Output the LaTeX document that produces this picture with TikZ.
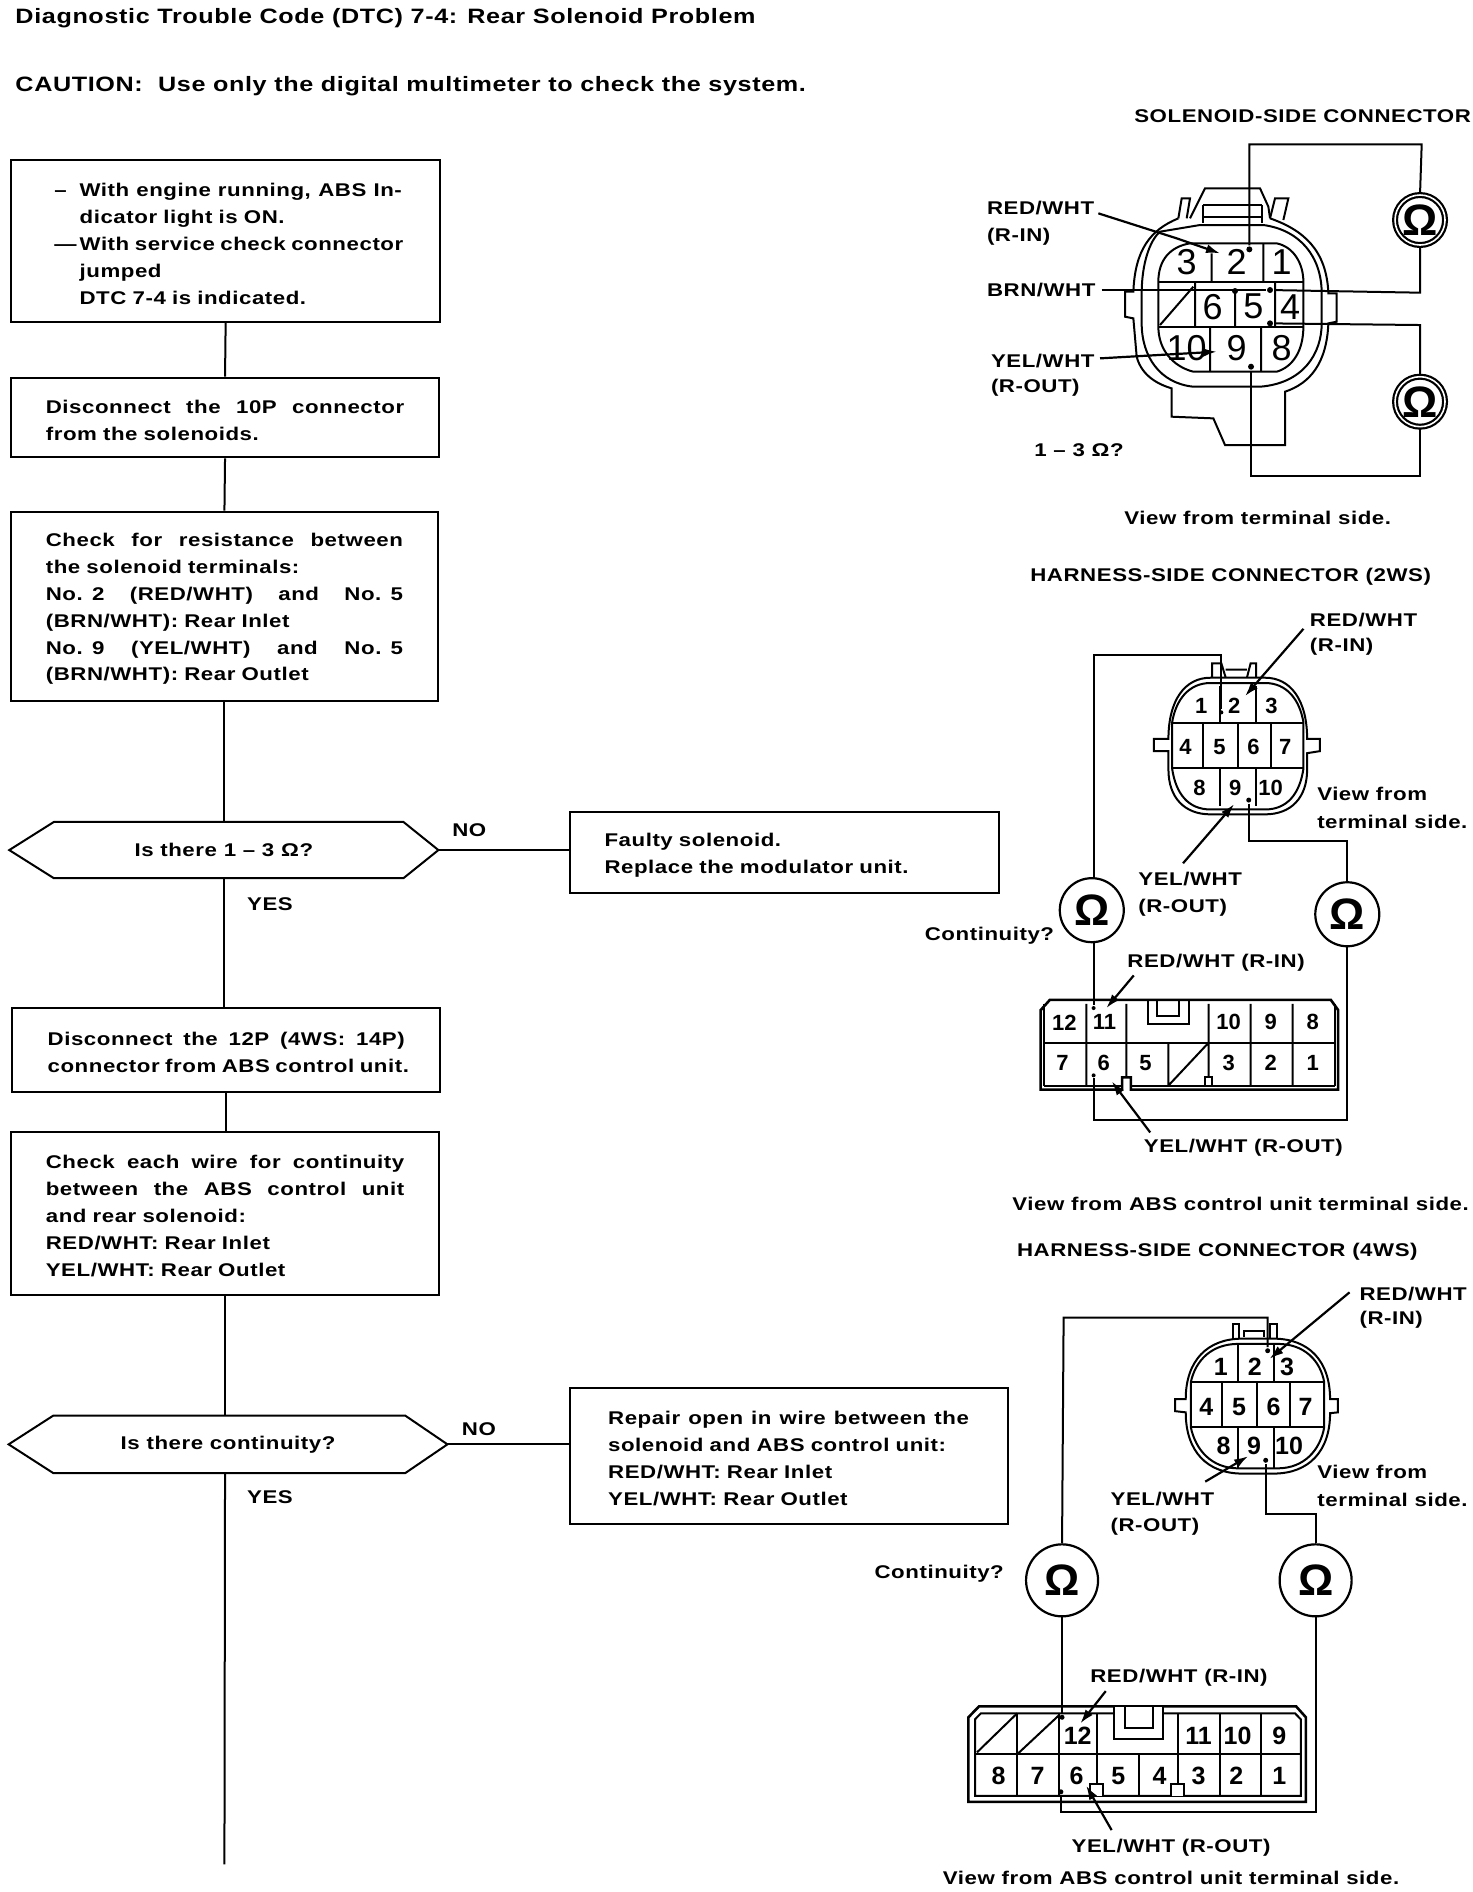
\documentclass[tikz,border=0pt]{standalone}
\usepackage{fontspec}
\usetikzlibrary{arrows.meta,calc}
\setmainfont{Liberation Sans}[FakeStretch=1.21,LetterSpace=3,BoldFont=Liberation Sans Bold]
\newfontfamily\digfont{Liberation Sans}
\newcommand\lbl{\fontsize{9.2}{13.45}\selectfont\bfseries}
\newcommand\ttl{\fontsize{10.4}{13.45}\selectfont\bfseries}
\newcommand\J[1]{\makebox[\hsize][s]{\spaceskip=0.3em plus 1fil\relax #1}}
\newlength\uu \setlength\uu{0.6033pt}
\tikzset{
  x=0.6033pt,y=-0.6033pt,
  every path/.style={line width=1pt},
  fbox/.style={draw,rectangle,inner ysep=0pt,font=\lbl,align=left,text height=9.3pt},
  hexb/.style={rectangle,inner sep=0pt,font=\lbl},
  lab/.style={anchor=west,inner sep=0pt,font=\lbl,yshift=-0.7pt},
  meter/.style={draw,circle,inner sep=0pt,line width=1.1pt,font=\digfont\bfseries\fontsize{22}{22}\selectfont},
  dotn/.style={circle,fill=black,inner sep=0pt,minimum size=3pt},
  lead/.style={line width=1.1pt,-{Latex[length=7pt,width=4.5pt]}},
  flow/.style={line width=1pt},
}
\begin{document}
\begin{tikzpicture}
\useasboundingbox (0,0) rectangle (1220,1568);
% headings
\node[lab,font=\ttl] (title) at (12,14) {Diagnostic Trouble Code (DTC) 7-4: Rear Solenoid Problem};
\node[lab,font=\ttl] (caution) at (12,70) {CAUTION:\ \ Use only the digital multimeter to check the system.};
% flow chart
\node[fbox,minimum width=356\uu,minimum height=134\uu,text width=292\uu,inner xsep=32\uu] (b1) at (187,200) {%
  \hspace*{4\uu}\makebox[21\uu][l]{--}\makebox[267\uu][s]{\spaceskip=0.3em plus 1fil\relax With engine running, ABS In-}\\
  \hspace*{25\uu}dicator light is ON.\\
  \hspace*{4\uu}\makebox[21\uu][l]{---}\makebox[267\uu][s]{\spaceskip=0.3em plus 1fil\relax With service check connector}\\
  \hspace*{25\uu}jumped\\
  \hspace*{25\uu}DTC 7-4 is indicated.};
\node[fbox,minimum width=355\uu,minimum height=66\uu,text width=297\uu,inner xsep=29\uu] (b2) at (186.5,346) {%
  \J{Disconnect the 10P connector}\\from the solenoids.};
\node[fbox,minimum width=354\uu,minimum height=157\uu,text width=296\uu,inner xsep=29\uu] (b3) at (186,502.5) {%
  \J{Check for resistance between}\\the solenoid terminals:\\\J{No. 2 (RED/WHT) and No. 5}\\(BRN/WHT): Rear Inlet\\\J{No. 9 (YEL/WHT) and No. 5}\\(BRN/WHT): Rear Outlet};
\node[hexb,minimum width=354\uu,minimum height=45\uu] (h1) at (185.5,704.5) {Is there 1 -- 3 Ω?};
\draw ($(h1.north west)+(37,0)$) -- ($(h1.north east)+(-29,0)$) -- (h1.east) -- ($(h1.south east)+(-29,0)$) -- ($(h1.south west)+(37,0)$) -- (h1.west) -- cycle;
\node[lab] (no1) at (374,687) {NO};
\node[lab] (yes1) at (204,748) {YES};
\node[fbox,minimum width=356\uu,minimum height=67\uu,text width=298\uu,inner xsep=29\uu] (f1) at (650,706.5) {Faulty solenoid.\\Replace the modulator unit.};
\node[fbox,minimum width=355\uu,minimum height=70\uu,text width=296\uu,inner xsep=29.5\uu] (b4) at (187.5,870) {%
  \J{Disconnect the 12P (4WS: 14P)}\\\J{connector from ABS control unit.}};
\node[fbox,minimum width=355\uu,minimum height=135\uu,text width=297\uu,inner xsep=29\uu] (b5) at (186.5,1005.5) {%
  \J{Check each wire for continuity}\\\J{between the ABS control unit}\\and rear solenoid:\\RED/WHT: Rear Inlet\\YEL/WHT: Rear Outlet};
\node[hexb,minimum width=362\uu,minimum height=46\uu] (h2) at (189,1197) {Is there continuity?};
\draw ($(h2.north west)+(37,0)$) -- ($(h2.north east)+(-35,0)$) -- (h2.east) -- ($(h2.south east)+(-35,0)$) -- ($(h2.south west)+(37,0)$) -- (h2.west) -- cycle;
\node[lab] (no2) at (382,1183) {NO};
\node[lab] (yes2) at (204,1240) {YES};
\node[fbox,minimum width=363\uu,minimum height=113\uu,text width=299\uu,inner xsep=32\uu] (f2) at (653.5,1206.5) {%
  \J{Repair open in wire between the}\\solenoid and ABS control unit:\\RED/WHT: Rear Inlet\\YEL/WHT: Rear Outlet};
\coordinate (endf) at (186,1545);
\draw[flow] (b1.south) -- (b2.north);
\draw[flow] (b2.south) -- (b3.north);
\draw[flow] (b3.south) -- (b3.south |- h1.north);
\draw[flow] (h1.east) -- (h1.east -| f1.west);
\draw[flow] (h1.south) -- (h1.south |- b4.north);
\draw[flow] (b4.south) -- (b4.south |- b5.north);
\draw[flow] (b5.south) -- (b5.south |- h2.north);
\draw[flow] (h2.east) -- (h2.east -| f2.west);
\draw[flow] (b5.south |- h2.south) -- (endf);

% ---------- solenoid-side connector
\begin{scope}[shift={(795.6,74.6)},x=0.16667pt,y=-0.16667pt]
\tikzset{dg/.style={inner sep=0pt,font=\digfont\fontsize{18}{18}\selectfont}}
\node[lab] (st) at (520,75) {SOLENOID-SIDE CONNECTOR};
\node[lab] (sr1) at (78,350) {RED/WHT};
\node[lab] (sr2) at (78,435) {(R-IN)};
\node[lab] (sb) at (78,597) {BRN/WHT};
\node[lab] (sy1) at (90,808) {YEL/WHT};
\node[lab] (sy2) at (90,890) {(R-OUT)};
\node[lab] (so) at (220,1075) {1 -- 3 Ω?};
\node[lab] (sv) at (490,1280) {View from terminal side.};
% housing
\draw (655,385) .. controls (570,420) and (525,480) .. (520,605) -- (495,605) -- (495,680) -- (520,685) -- (530,800) .. controls (545,860) and (600,885) .. (635,895) -- (635,980) -- (760,985) -- (795,1065) -- (975,1065) -- (975,905) .. controls (1050,880) and (1100,820) .. (1105,700) -- (1130,695) -- (1130,610) -- (1105,610) .. controls (1100,480) and (1030,420) .. (930,385);
\draw (655,385) -- (665,325) -- (690,325) -- (680,385);
\draw (930,385) -- (945,325) -- (985,325) -- (970,390);
\draw (690,385) -- (735,295) -- (900,295) -- (925,350) -- (930,385);
\draw (730,345) -- (730,400) (905,345) -- (905,400) (730,345) -- (905,345) (730,380) -- (905,380);
\draw (600,425) -- (720,405) -- (910,405) .. controls (1020,420) and (1085,500) .. (1085,610) -- (1085,700) .. controls (1085,790) and (1030,880) .. (900,890) -- (700,890) .. controls (600,880) and (545,800) .. (545,700) -- (545,610) .. controls (545,520) and (570,450) .. (600,425);
% cavity
\draw (595,575) .. controls (595,510) and (630,470) .. (690,460) -- (950,460) .. controls (1000,470) and (1030,520) .. (1030,575) -- (1030,710) .. controls (1030,780) and (1000,830) .. (950,845) -- (700,845) .. controls (640,830) and (595,780) .. (595,710) -- cycle;
\draw (595,575) -- (1030,575) (595,710) -- (1030,710);
\draw (755,490) -- (755,575) (910,460) -- (910,575) (705,575) -- (705,710) (825,600) -- (825,710) (945,575) -- (945,710) (750,710) -- (750,845) (903,710) -- (903,845) (600,705) -- (700,590);
\foreach \n/\x/\y in {3/680/515,2/830/515,1/965/515,6/758/650,5/880/650,4/990/650,10/680/775,9/830/775,8/965/775}
  \node[dg] (sn\n) at (\x,\y) {\n};
% meters and wires
\node[meter,double,double distance=0.8pt,minimum size=25pt] (sm1) at (1380,390) {Ω};
\node[meter,double,double distance=0.8pt,minimum size=25pt] (sm2) at (1380,935) {Ω};
\node[dotn] (sd2) at (868,478) {};
\node[dotn] (sd5a) at (930,600) {};
\node[dotn] (sd5b) at (930,700) {};
\node[dotn] (sd9) at (873,830) {};
\node[dotn] (sd5c) at (825,603) {};
\coordinate (sc1) at (1385,163);
\coordinate (sc2) at (1385,608);
\coordinate (sc3) at (1380,705);
\coordinate (sc4) at (1380,1158);
\draw (sd2) -- (sd2 |- sc1) -- (sc1) -- (sm1.north);
\draw (sm1.south) -- (sm1.south |- sc2) -- (sd5a);
\draw (sd5b) -- (sc3) -- (sm2.north);
\draw (sm2.south) -- (sc4) -- (sd9 |- sc4) -- (sd9);
\coordinate (sa1) at (415,370); \coordinate (sa1t) at (780,490);
\draw[lead] (sa1) -- (650,445) -- (sa1t);
\coordinate (sa2) at (425,600);
\draw (sa2) -- (sd5a);
\coordinate (sa3) at (420,805); \coordinate (sa3t) at (770,785);
\draw[lead] (sa3) -- (sa3t);
\end{scope}

% ---------- harness-side 2WS
\begin{scope}[shift={(746,489)},x=0.1825pt,y=-0.2039pt]
\tikzset{dg/.style={inner sep=0pt,font=\digfont\bfseries\fontsize{11}{11}\selectfont}}
\node[lab] (ht) at (354,-35) {HARNESS-SIDE CONNECTOR (2WS)};
\node[lab] (hr1) at (1120,70) {RED/WHT};
\node[lab] (hr2) at (1120,135) {(R-IN)};
\node[lab] (hv1) at (1140,497) {View from};
\node[lab] (hv2) at (1140,565) {terminal side.};
\node[lab] (hy1) at (650,705) {YEL/WHT};
\node[lab] (hy2) at (650,775) {(R-OUT)};
\node[lab] (hc) at (65,845) {Continuity?};
\node[lab] (hr3) at (620,910) {RED/WHT (R-IN)};
\node[lab] (hy3) at (665,1365) {YEL/WHT (R-OUT)};
\node[lab] (hv3) at (305,1503) {View from ABS control unit terminal side.};
% upper connector
\draw (735,365) .. controls (735,270) and (780,215) .. (850,215) -- (1000,215) .. controls (1070,215) and (1115,270) .. (1115,365) -- (1150,365) -- (1150,395) -- (1115,400) -- (1115,440) .. controls (1115,510) and (1070,550) .. (1000,550) -- (850,550) .. controls (780,550) and (735,510) .. (735,440) -- (735,395) -- (695,395) -- (695,365) -- cycle;
\draw (745,325) .. controls (755,270) and (790,228) .. (850,228) -- (1000,228) .. controls (1060,228) and (1095,270) .. (1105,325) -- (1105,437) .. controls (1095,500) and (1060,538) .. (1000,538) -- (850,538) .. controls (790,538) and (755,500) .. (745,437) -- cycle;
\draw (745,325) -- (1105,325) (745,437) -- (1105,437);
\draw (875,235) -- (875,325) (975,235) -- (975,325) (830,325) -- (830,437) (925,325) -- (925,437) (1015,325) -- (1015,437) (875,437) -- (875,530) (975,437) -- (975,530);
\draw (855,215) -- (855,180) -- (880,180) -- (892,215) (892,195) -- (950,195) (950,215) -- (960,180) -- (975,180) -- (975,215);
\foreach \n/\x/\y in {1/825/283,2/915/283,3/1017/283,4/782/385,5/875/385,6/968/385,7/1055/385,8/820/485,9/918/485,10/1015/485}
  \node[dg] (hn\n) at (\x,\y) {\n};
% lower connector
\draw[line width=1.3pt] (385,1225) -- (385,1030) -- (410,1005) -- (1180,1005) -- (1200,1030) -- (1200,1225) -- (632,1225) -- (632,1195) -- (608,1195) -- (608,1225) -- cycle;
\draw (395,1110) -- (1190,1110) (395,1215) -- (608,1215) (632,1215) -- (1190,1215) (395,1015) -- (395,1215) (1190,1015) -- (1190,1215);
\draw (510,1015) -- (510,1215) (620,1015) -- (620,1195) (845,1015) -- (845,1195) (960,1015) -- (960,1215) (1075,1015) -- (1075,1215) (735,1110) -- (735,1215) (735,1215) -- (845,1110);
\draw (680,1005) -- (680,1065) -- (790,1065) -- (790,1005) (705,1005) -- (705,1045) -- (765,1045) -- (765,1005);
\draw (835,1215) -- (835,1195) -- (855,1195) -- (855,1215);
\foreach \n/\x in {12/450,11/560,10/900,9/1015,8/1130} \node[dg] (hu\n) at (\x,1060) {\n};
\foreach \n/\x in {7/445,6/558,5/672,3/900,2/1015,1/1130} \node[dg] (hl\n) at (\x,1160) {\n};
% meters and wires
\node[meter,minimum size=32pt] (hm1) at (525,785) {Ω};
\node[meter,minimum size=32pt] (hm2) at (1225,795) {Ω};
\node[dotn,minimum size=2pt] (hd2) at (880,300) {};
\node[dotn,minimum size=2.5pt] (hd9) at (955,515) {};
\node[dotn,minimum size=2pt] (hd11) at (530,1025) {};
\node[dotn,minimum size=2pt] (hd6) at (530,1190) {};
\coordinate (hc1) at (530,160);
\coordinate (hc2) at (880,160);
\coordinate (hc3) at (1225,615);
\coordinate (hc4) at (1225,1300);
\draw (hm1.north -| hc1) -- (hc1) -- (hc2) -- (hd2);
\draw (hm1.south -| hd11) -- (hd11);
\draw (hd9) -- (hd9 |- hc3) -- (hc3) -- (hm2.north);
\draw (hm2.south) -- (hc4) -- (hd6 |- hc4) -- (hd6);
\coordinate (ha1) at (1105,95); \coordinate (ha1t) at (945,260);
\coordinate (ha2) at (775,670); \coordinate (ha2t) at (915,525);
\coordinate (ha3) at (640,945); \coordinate (ha3t) at (565,1025);
\coordinate (ha4) at (685,1330); \coordinate (ha4t) at (580,1205);
\draw[lead] (ha1) -- (ha1t);
\draw[lead] (ha2) -- (ha2t);
\draw[lead] (ha3) -- (ha3t);
\draw[lead] (ha4) -- (ha4t);
\end{scope}

% ---------- harness-side 4WS
\begin{scope}[shift={(712.7,1044.3)},x=0.19505pt,y=-0.2014pt]
\tikzset{dg/.style={inner sep=0pt,font=\digfont\bfseries\fontsize{12.5}{12.5}\selectfont}}
\node[lab] (kt) at (400,-25) {HARNESS-SIDE CONNECTOR (4WS)};
\node[lab] (kr1) at (1278,80) {RED/WHT};
\node[lab] (kr2) at (1278,145) {(R-IN)};
\node[lab] (kv1) at (1170,523) {View from};
\node[lab] (kv2) at (1170,592) {terminal side.};
\node[lab] (ky1) at (640,590) {YEL/WHT};
\node[lab] (ky2) at (640,658) {(R-OUT)};
\node[lab] (kc) at (35,775) {Continuity?};
\node[lab] (kr3) at (588,1033) {RED/WHT (R-IN)};
\node[lab] (ky3) at (540,1455) {YEL/WHT (R-OUT)};
\node[lab] (kv3) at (210,1530) {View from ABS control unit terminal side.};
% upper connector
\draw (835,345) .. controls (835,250) and (890,195) .. (980,195) -- (1060,195) .. controls (1150,195) and (1205,250) .. (1205,345) -- (1225,345) -- (1225,378) -- (1205,380) .. controls (1205,475) and (1150,530) .. (1060,530) -- (980,530) .. controls (890,530) and (835,475) .. (835,378) -- (808,375) -- (808,345) -- cycle;
\draw (848,303) .. controls (860,250) and (900,208) .. (970,208) -- (1070,208) .. controls (1140,208) and (1180,250) .. (1190,303) -- (1190,415) .. controls (1180,470) and (1140,517) .. (1070,517) -- (970,517) .. controls (900,517) and (860,470) .. (848,415) -- cycle;
\draw (848,303) -- (1190,303) (848,415) -- (1190,415);
\draw (970,210) -- (970,303) (1062,210) -- (1062,303) (928,303) -- (928,415) (1018,303) -- (1018,415) (1102,303) -- (1102,415) (970,415) -- (970,515) (1062,415) -- (1062,515);
\draw (955,195) -- (955,158) -- (972,158) -- (972,195) (985,190) -- (985,175) -- (1035,175) -- (1035,190) (1050,195) -- (1050,158) -- (1070,158) -- (1070,195);
\foreach \n/\x/\y in {1/925/265,2/1012/265,3/1095/265,4/888/365,5/972/365,6/1060/365,7/1142/365,8/932/462,9/1010/462,10/1100/462}
  \node[dg] (kn\n) at (\x,\y) {\n};
% lower connector
\draw[line width=1.3pt] (278,1345) -- (278,1135) -- (305,1108) -- (1118,1108) -- (1143,1135) -- (1143,1345) -- cycle;
\draw (295,1330) -- (295,1140) -- (310,1125) -- (1115,1125) -- (1130,1140) -- (1130,1330) -- cycle;
\draw (295,1225) -- (1130,1225);
\draw (403,1125) -- (403,1330) (510,1125) -- (510,1330) (608,1125) -- (608,1330) (815,1125) -- (815,1330) (922,1125) -- (922,1330) (1028,1125) -- (1028,1330) (715,1225) -- (715,1330);
\draw (300,1222) -- (403,1125) (405,1225) -- (510,1130);
\draw[fill=white] (652,1108) -- (652,1190) -- (778,1190) -- (778,1108) -- cycle;
\draw (680,1108) -- (680,1162) -- (750,1162) -- (750,1108);
\draw[fill=white] (590,1330) -- (590,1300) -- (622,1300) -- (622,1330);
\draw[fill=white] (797,1330) -- (797,1300) -- (830,1300) -- (830,1330);
\foreach \n/\x in {12/558,11/868,10/968,9/1075} \node[dg] (ku\n) at (\x,1180) {\n};
\foreach \n/\x in {8/355,7/455,6/555,5/662,4/768,3/868,2/965,1/1075} \node[dg] (kl\n) at (\x,1280) {\n};
% meters and wires
\node[meter,minimum size=36pt] (km1) at (518,795) {Ω};
\node[meter,minimum size=36pt] (km2) at (1168,795) {Ω};
\node[dotn,minimum size=2.5pt] (kd2) at (1045,225) {};
\node[dotn,minimum size=2.5pt] (kd9) at (1040,497) {};
\node[dotn,minimum size=2.5pt] (kd12) at (518,1135) {};
\node[dotn,minimum size=2.5pt] (kd6) at (515,1320) {};
\coordinate (kc1) at (522,143);
\coordinate (kc2) at (1168,630);
\coordinate (kc3) at (1168,1370);
\draw (km1.north) -- (kc1) -- (kd2 |- kc1) -- (kd2);
\draw (km1.south) -- (kd12);
\draw (kd9) -- (kd9 |- kc2) -- (kc2) -- (km2.north);
\draw[line width=1.1pt] (km2.south) -- (kc3) -- (kd6 |- kc3) -- (kd6);
\coordinate (ka1) at (1255,80); \coordinate (ka1t) at (1050,245);
\coordinate (ka2) at (885,550); \coordinate (ka2t) at (995,487);
\coordinate (ka3) at (630,1070); \coordinate (ka3t) at (565,1150);
\coordinate (ka4) at (645,1415); \coordinate (ka4t) at (580,1305);
\draw[lead] (ka1) -- (ka1t);
\draw[lead] (ka2) -- (ka2t);
\draw[lead] (ka3) -- (ka3t);
\draw[lead] (ka4) -- (ka4t);
\end{scope}
\end{tikzpicture}
\end{document}
